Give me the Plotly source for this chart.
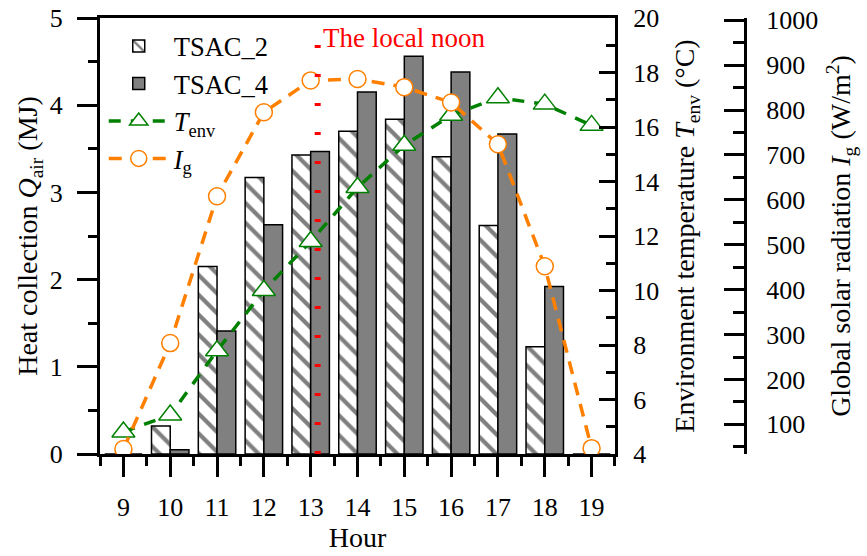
import plotly.graph_objects as go

# ---------------- data ----------------
hours = [9, 10, 11, 12, 13, 14, 15, 16, 17, 18, 19]
tsac2 = [0, 0.32, 2.15, 3.17, 3.43, 3.70, 3.84, 3.41, 2.62, 1.23, 0]
tsac4 = [0, 0.05, 1.41, 2.63, 3.47, 4.15, 4.56, 4.38, 3.67, 1.92, 0]
t_env = [4.81, 5.43, 7.79, 10.0, 11.8, 13.78, 15.33, 16.43, 17.07, 16.84, 16.06]
i_g = [45, 281, 608, 795, 866, 869, 851, 817, 724, 452, 47]
noon_hour = 13.15
noon_top = 4.72
noon_label = "The local noon"

q_ticks = [0, 1, 2, 3, 4, 5]
t_ticks = [4, 6, 8, 10, 12, 14, 16, 18, 20]
i_ticks = [100, 200, 300, 400, 500, 600, 700, 800, 900, 1000]

FONT = '"Liberation Serif", "Times New Roman", Times, serif'
GREEN = "#008000"
ORANGE = "#FF8000"
TICKF = dict(family=FONT, size=26, color="black")
TITLEF = dict(family=FONT, size=28, color="black")

fig = go.Figure()
fig.add_trace(go.Bar(
    x=hours, y=tsac2, name="TSAC_2",
    marker=dict(color="white", line=dict(color="black", width=1.5),
                pattern=dict(shape="\\", fgcolor="black", bgcolor="white",
                             size=14, solidity=0.3)),
))
fig.add_trace(go.Bar(
    x=hours, y=tsac4, name="TSAC_4",
    marker=dict(color="#808080", line=dict(color="black", width=1.5)),
))
fig.add_trace(go.Scatter(
    x=hours, y=t_env, name="<i>T</i><sub>env</sub>", yaxis="y2",
    mode="lines+markers",
    line=dict(color=GREEN, width=3.5, dash="12px,10px"),
    marker=dict(symbol="triangle-up", size=20, color="white",
                line=dict(color=GREEN, width=1.5)),
))
fig.add_trace(go.Scatter(
    x=hours, y=i_g, name="<i>I</i><sub>g</sub>", yaxis="y3",
    mode="lines+markers",
    line=dict(color=ORANGE, width=3.5, dash="13px,9px"),
    marker=dict(symbol="circle", size=17, color="white",
                line=dict(color=ORANGE, width=1.5)),
))

# local noon marker
fig.add_shape(type="line", xref="x", yref="y",
              x0=noon_hour, x1=noon_hour, y0=0, y1=noon_top,
              line=dict(color="red", width=6, dash="3px,26px"), layer="above")
fig.add_annotation(x=noon_hour, y=noon_top, xref="x", yref="y",
                   text=noon_label, showarrow=False, xanchor="left",
                   yanchor="middle", xshift=3, yshift=4,
                   font=dict(color="red", size=27, family=FONT))

axis_common = dict(showline=True, linewidth=3, linecolor="black",
                   tickwidth=3, tickcolor="black", showgrid=False,
                   zeroline=False, tickfont=TICKF, automargin=False)

fig.update_layout(
    width=867, height=556,
    margin=dict(l=100, r=20, t=18, b=102),
    plot_bgcolor="white", paper_bgcolor="white",
    font=dict(family=FONT, size=26, color="black"),
    barmode="group", bargap=0.2, bargroupgap=0,
    showlegend=True,
    legend=dict(x=0.005, y=0.99, xanchor="left", yanchor="top",
                bgcolor="rgba(0,0,0,0)", font=dict(size=26.5, family=FONT),
                tracegroupgap=0, itemwidth=60),
    xaxis=dict(**axis_common, domain=[0, 0.6894], range=[8.5, 19.5],
               tickmode="array", tickvals=hours, ticks="outside", ticklen=20,
               ticklabelstandoff=8, mirror=True,
               minor=dict(dtick=0.5, tick0=8.5, ticks="outside", ticklen=9,
                          tickwidth=3, tickcolor="black"),
               title=dict(text="Hour", font=TITLEF, standoff=2)),
    yaxis=dict(**axis_common, range=[0, 5], tickmode="array", tickvals=q_ticks,
               ticks="outside", ticklen=20, ticklabelstandoff=9,
               minor=dict(dtick=0.5, tick0=0, ticks="outside", ticklen=9,
                          tickwidth=3, tickcolor="black"),
               title=dict(text="Heat collection <i>Q</i><sub>air</sub> (MJ)",
                          font=TITLEF, standoff=4)),
    yaxis2=dict(**axis_common, overlaying="y", side="right", anchor="x",
                range=[4, 20], tickmode="array", tickvals=t_ticks,
                ticks="inside", ticklen=16, ticklabelstandoff=10,
                minor=dict(dtick=1, tick0=4, ticks="inside", ticklen=9,
                           tickwidth=3, tickcolor="black"),
                title=dict(text="Environment temperature <i>T</i><sub>env</sub> (°C)",
                           font=TITLEF, standoff=17)),
    yaxis3=dict(**axis_common, overlaying="y", side="right", anchor="free",
                position=0.8635, range=[34, 1005], tickmode="array",
                tickvals=i_ticks, ticks="inside", ticklen=20,
                ticklabelstandoff=14,
                minor=dict(dtick=50, tick0=0, ticks="inside", ticklen=11,
                           tickwidth=3, tickcolor="black"),
                title=dict(text="Global solar radiation <i>I</i><sub>g</sub> (W/m<sup>2</sup>)",
                           font=TITLEF, standoff=13)),
)

fig.write_html("out.html")
